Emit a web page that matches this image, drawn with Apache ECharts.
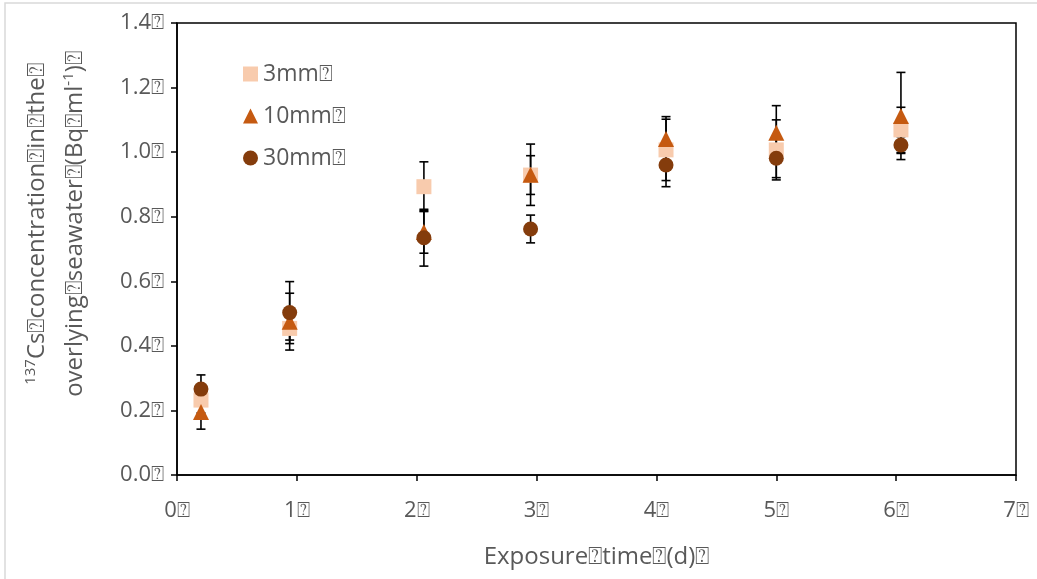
<!DOCTYPE html>
<html>
<head>
<meta charset="utf-8">
<script src="https://cdn.jsdelivr.net/npm/echarts@6/dist/echarts.min.js"></script>
<style>
  html, body { margin: 0; padding: 0; background: #ffffff; }
  #chart { width: 1037px; height: 579px; }
</style>
</head>
<body>
<div id="chart"></div>
<script>
// Exposure time (days) shared by all three depths
const days = [0.20, 0.94, 2.06, 2.95, 4.08, 5.00, 6.04];

// 137Cs in overlying seawater (Bq ml-1), mean and error per depth
const mm3 = [0.232, 0.454, 0.893, 0.929, 1.007, 1.007, 1.069];
const mm3Err = [0.040, 0.036, 0.077, 0.060, 0.095, 0.093, 0.070];
const mm10 = [0.195, 0.475, 0.753, 0.930, 1.041, 1.060, 1.112];
const mm10Err = [0.053, 0.088, 0.066, 0.095, 0.069, 0.084, 0.135];
const mm30 = [0.266, 0.503, 0.735, 0.762, 0.960, 0.981, 1.022];
const mm30Err = [0.044, 0.096, 0.088, 0.043, 0.067, 0.060, 0.026];

const seriesNames = ['3mm\u2370', '10mm\u2370', '30mm\u2370'];
const xTicks = ['0\u2370', '1\u2370', '2\u2370', '3\u2370', '4\u2370', '5\u2370', '6\u2370', '7\u2370'];
const yTicks = ['0.0\u2370', '0.2\u2370', '0.4\u2370', '0.6\u2370', '0.8\u2370', '1.0\u2370', '1.2\u2370', '1.4\u2370'];
const xTitle = 'Exposure\u2370time\u2370(d)\u2370';

const FONT = '"Open Sans", "DejaVu Sans", sans-serif';
const GREY = '#595959';

function points(vals) { return days.map((d, i) => [d, vals[i]]); }
function bars(vals, errs) { return days.map((d, i) => [d, vals[i], errs[i]]); }

function renderErr(params, api) {
  const x = api.value(0), y = api.value(1), e = api.value(2);
  const hi = api.coord([x, y + e]);
  const lo = api.coord([x, y - e]);
  const cap = 4.5;
  const st = { stroke: '#000000', lineWidth: 1.6 };
  return {
    type: 'group',
    children: [
      { type: 'line', shape: { x1: hi[0], y1: hi[1], x2: lo[0], y2: lo[1] }, style: st },
      { type: 'line', shape: { x1: hi[0] - cap, y1: hi[1], x2: hi[0] + cap, y2: hi[1] }, style: st },
      { type: 'line', shape: { x1: lo[0] - cap, y1: lo[1], x2: lo[0] + cap, y2: lo[1] }, style: st }
    ]
  };
}

function errSeries(vals, errs) {
  return {
    type: 'custom', renderItem: renderErr, data: bars(vals, errs),
    encode: { x: 0, y: 1 }, z: 1, silent: true
  };
}

const chart = echarts.init(document.getElementById('chart'), null, { renderer: 'canvas' });
chart.setOption({
  animation: false,
  backgroundColor: '#ffffff',
  textStyle: { fontFamily: FONT },
  grid: {
    left: 177, top: 23, right: 21, bottom: 104,
    show: true, borderColor: '#000000', borderWidth: 1.5, backgroundColor: 'transparent'
  },
  legend: {
    orient: 'vertical', left: 238, top: 55,
    itemWidth: 15, itemHeight: 15, itemGap: 14,
    data: seriesNames,
    textStyle: { fontFamily: FONT, fontSize: 23, color: GREY, lineHeight: 28 }
  },
  xAxis: {
    type: 'value', min: 0, max: 7, interval: 1,
    name: xTitle, nameLocation: 'middle', nameGap: 70,
    nameTextStyle: { fontFamily: FONT, fontSize: 24, color: GREY },
    axisLine: { show: true, lineStyle: { color: '#000000', width: 1.5 } },
    axisTick: { show: true, length: 6, lineStyle: { color: '#000000', width: 1.5 } },
    axisLabel: { margin: 25, fontFamily: FONT, fontSize: 22, color: GREY,
      formatter: v => xTicks[Math.round(v)] },
    splitLine: { show: false }
  },
  yAxis: {
    type: 'value', min: 0, max: 1.4, interval: 0.2,
    axisLine: { show: true, lineStyle: { color: '#000000', width: 1.5 } },
    axisTick: { show: true, length: 6, lineStyle: { color: '#000000', width: 1.5 } },
    axisLabel: { margin: 13, fontFamily: FONT, fontSize: 22, color: GREY,
      formatter: v => yTicks[Math.round(v / 0.2)] },
    splitLine: { show: false }
  },
  graphic: [
    {
      type: 'rect', z: -10, silent: true,
      shape: { x: 5, y: 3, width: 1200, height: 800 },
      style: { fill: 'none', stroke: '#d9d9d9', lineWidth: 1.5 }
    },
    {
      type: 'text', x: 56, y: 224, rotation: Math.PI / 2, silent: true,
      style: {
        text: '{sup|137}Cs\u2370concentration\u2370in\u2370the\u2370\noverlying\u2370seawater\u2370(Bq\u2370ml{sup|-1})\u2370',
        fontFamily: FONT, fontSize: 24, fill: GREY,
        align: 'center', verticalAlign: 'middle', lineHeight: 38,
        rich: {
          sup: { fontFamily: FONT, fontSize: 15, fill: GREY, padding: [0, 0, 12, 0] }
        }
      }
    }
  ],
  series: [
    errSeries(mm3, mm3Err),
    errSeries(mm10, mm10Err),
    errSeries(mm30, mm30Err),
    {
      name: seriesNames[0], type: 'scatter', data: points(mm3), z: 3,
      symbol: 'rect', symbolSize: 15, itemStyle: { color: '#F8CBAD', opacity: 1 }
    },
    {
      name: seriesNames[1], type: 'scatter', data: points(mm10), z: 4,
      symbol: 'triangle', symbolSize: 16, itemStyle: { color: '#C55A11', opacity: 1 }
    },
    {
      name: seriesNames[2], type: 'scatter', data: points(mm30), z: 5,
      symbol: 'circle', symbolSize: 15, itemStyle: { color: '#843C0C', opacity: 1 }
    }
  ]
});
</script>
</body>
</html>
